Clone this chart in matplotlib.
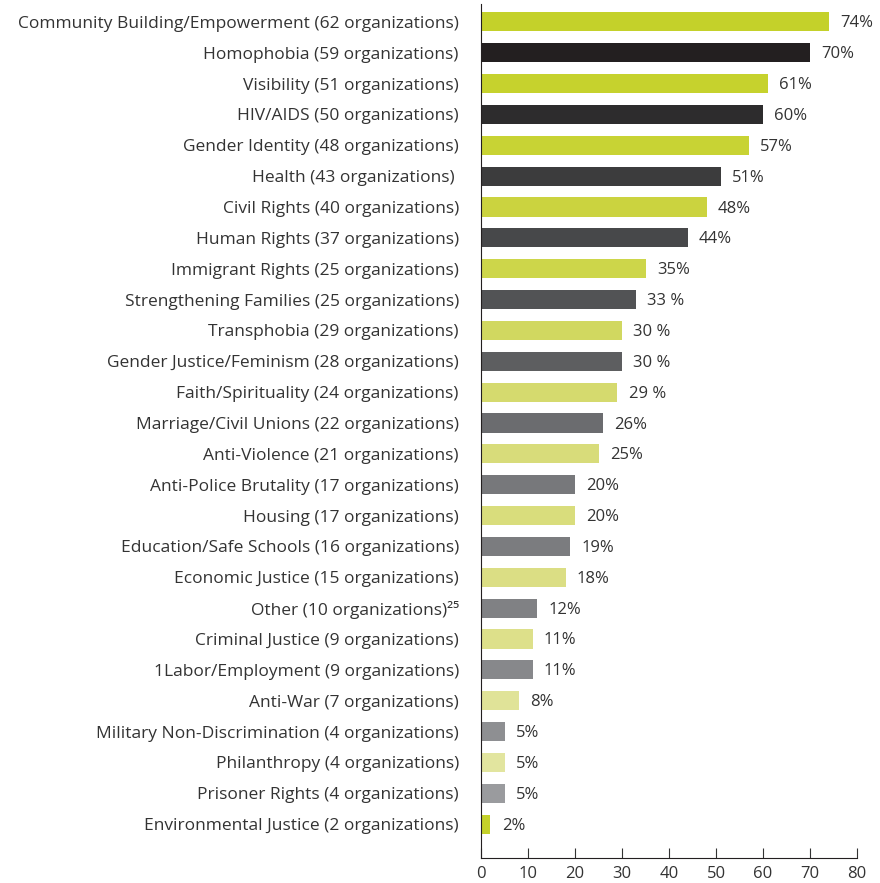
import matplotlib.pyplot as plt

plt.rcParams['font.family'] = ['Open Sans', 'DejaVu Sans']

# issue areas, top to bottom
categories = [
    "Community Building/Empowerment (62 organizations)",
    "Homophobia (59 organizations)",
    "Visibility (51 organizations)",
    "HIV/AIDS (50 organizations)",
    "Gender Identity (48 organizations)",
    "Health (43 organizations) ",
    "Civil Rights (40 organizations)",
    "Human Rights (37 organizations)",
    "Immigrant Rights (25 organizations)",
    "Strengthening Families (25 organizations)",
    "Transphobia (29 organizations)",
    "Gender Justice/Feminism (28 organizations)",
    "Faith/Spirituality (24 organizations)",
    "Marriage/Civil Unions (22 organizations)",
    "Anti-Violence (21 organizations)",
    "Anti-Police Brutality (17 organizations)",
    "Housing (17 organizations)",
    "Education/Safe Schools (16 organizations)",
    "Economic Justice (15 organizations)",
    "Other (10 organizations)\u00b2\u2075",
    "Criminal Justice (9 organizations)",
    "1Labor/Employment (9 organizations)",
    "Anti-War (7 organizations)",
    "Military Non-Discrimination (4 organizations)",
    "Philanthropy (4 organizations)",
    "Prisoner Rights (4 organizations)",
    "Environmental Justice (2 organizations)",
]
values = [74, 70, 61, 60, 57, 51, 48, 44, 35, 33, 30, 30, 29, 26, 25,
          20, 20, 19, 18, 12, 11, 11, 8, 5, 5, 5, 2]
value_labels = ["74%", "70%", "61%", "60%", "57%", "51%", "48%", "44%", "35%",
                "33 %", "30 %", "30 %", "29 %", "26%", "25%", "20%", "20%",
                "19%", "18%", "12%", "11%", "11%", "8%", "5%", "5%", "5%", "2%"]

colors = ["#c4d12a", "#231f20", "#c6d22d", "#2d2c2d", "#c8d334", "#3c3c3d",
          "#cbd33f", "#47484a", "#cdd64a", "#525355", "#d1d860", "#5d5e60",
          "#d5da6e", "#6b6c6f", "#d8dc7a", "#77787b", "#d9dd7c", "#7b7c7f",
          "#dbde84", "#808184", "#dde08a", "#87888b", "#e0e398", "#8e8f92",
          "#e2e59f", "#9a9b9e", "#c4d12a"]

fig = plt.figure(figsize=(8.8, 8.83), dpi=100)
ax = fig.add_axes([0.5466, 0.0283, 0.4273, 0.9672])

pos = list(range(len(values)))
ax.barh(pos, values, height=0.62, color=colors)

for p, v, lab in zip(pos, values, value_labels):
    ax.text(v + 2.4, p + 0.05, lab, va='center', ha='left', fontsize=12, color='#333333')

ax.set_yticks(pos)
ax.set_yticklabels(categories, fontsize=12.5, color='#333333')
ax.tick_params(axis='y', length=0, pad=16)
ax.set_ylim(len(values) - 1 + 1.1, -0.58)

ax.set_xlim(0, 80)
ax.set_xticks(range(0, 81, 10))
ax.tick_params(axis='x', direction='in', length=7, labelsize=12,
               labelcolor='#333333', color='#333333', pad=6)

for s in ['top', 'right']:
    ax.spines[s].set_visible(False)
ax.spines['left'].set_color('#231f20')
ax.spines['bottom'].set_color('#231f20')

fig.savefig('out.png', dpi=100)
